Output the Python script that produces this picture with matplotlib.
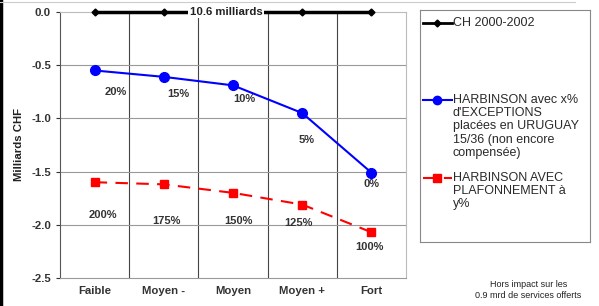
import os
import matplotlib.pyplot as plt
from matplotlib import font_manager as fm
from matplotlib.lines import Line2D

plt.rcParams['font.family'] = ['Liberation Sans', 'DejaVu Sans']

# bold Liberation Sans (not the Narrow variant)
BOLD = None
for f in fm.findSystemFonts():
    if os.path.basename(f).lower() == "liberationsans-bold.ttf":
        BOLD = fm.FontProperties(fname=f)
        break
if BOLD is None:
    BOLD = fm.FontProperties(family="DejaVu Sans", weight="bold")

# --------------------------------------------------------------------
# Data
# --------------------------------------------------------------------
categories = ["Faible", "Moyen -", "Moyen", "Moyen +", "Fort"]
ch_values = [0.0, 0.0, 0.0, 0.0, 0.0]
exceptions = [-0.55, -0.61, -0.69, -0.95, -1.51]
plafond = [-1.60, -1.62, -1.70, -1.81, -2.07]
exc_labels = ["20%", "15%", "10%", "5%", "0%"]
plaf_labels = ["200%", "175%", "150%", "125%", "100%"]
yticks = [0.0, -0.5, -1.0, -1.5, -2.0, -2.5]

legend_texts = [
    "CH 2000-2002",
    "HARBINSON avec x%\nd'EXCEPTIONS\nplacées en URUGUAY\n15/36 (non encore\ncompensée)",
    "HARBINSON AVEC\nPLAFONNEMENT à\ny%",
]

# label offsets in pixels (dx, dy) relative to each point
exc_off = [(21, -22), (14, -17), (11, -14), (4, -27), (0, -11)]
plaf_off = [(8, -33), (3, -37), (5, -28), (-4, -18), (-2, -15)]


def bold(size):
    p = BOLD.copy()
    p.set_size(size)
    return p


# --------------------------------------------------------------------
fig = plt.figure(figsize=(5.99, 3.06), dpi=100)
ax = fig.add_axes([0.1002, 0.0915, 0.5776, 0.8695])

x = list(range(len(categories)))
ax.plot(x, ch_values, color="black", lw=2.5, marker="D", ms=3.5, zorder=4, clip_on=False)
ax.plot(x, exceptions, color="#0000ff", lw=1.5, marker="o", ms=7, zorder=4)
ax.plot(x, plafond, color="#ff0000", lw=1.5, ls=(0, (6, 4)), marker="s", ms=6, zorder=4)

ax.text(1.9, 0.0, "10.6 milliards", ha="center", va="center", fontproperties=bold(8.2),
        color="#222222", zorder=5,
        bbox=dict(facecolor="white", edgecolor="none", pad=1.0))

for i, lab in enumerate(exc_labels):
    ax.annotate(lab, (x[i], exceptions[i]), xytext=exc_off[i], textcoords="offset pixels",
                ha="center", va="center", fontproperties=bold(8), color="#333333")
for i, lab in enumerate(plaf_labels):
    ax.annotate(lab, (x[i], plafond[i]), xytext=plaf_off[i], textcoords="offset pixels",
                ha="center", va="center", fontproperties=bold(8), color="#333333")

ax.set_xlim(-0.5, len(categories) - 0.5)
ax.set_ylim(-2.5, 0.0)
ax.set_yticks(yticks)
ax.set_yticklabels([f"{v:.1f}" for v in yticks])
ax.set_xticks(x)
ax.set_xticklabels(categories)
ax.tick_params(axis="both", colors="#333333", length=3)
for lab in ax.get_xticklabels() + ax.get_yticklabels():
    lab.set_fontproperties(bold(8.2))
ax.tick_params(axis="x", length=0, pad=6)

# vertical separators between categories
for b in range(len(categories) - 1):
    ax.axvline(b + 0.5, color="#444444", lw=0.8, zorder=1)
for v in yticks[1:-1]:
    ax.axhline(v, color="#999999", lw=0.8, zorder=1)

ax.spines["left"].set_color("#555555")
ax.spines["bottom"].set_color("#999999")
ax.spines["right"].set_color("#bbbbbb")
ax.spines["top"].set_color("#bbbbbb")

ax.set_ylabel("Milliards CHF", fontproperties=bold(8.2), color="#222222", labelpad=5)

# --------------------------------------------------------------------
# Legend box (drawn manually)
# --------------------------------------------------------------------
lax = fig.add_axes([0.701, 0.209, 0.284, 0.758])
lax.set_xlim(0, 170)
lax.set_ylim(232, 0)
lax.set_xticks([])
lax.set_yticks([])
for s in lax.spines.values():
    s.set_color("#888888")
    s.set_linewidth(0.8)

samples = [
    dict(color="black", lw=2, marker="D", ms=3.5, ls="-"),
    dict(color="#0000ff", lw=1.5, marker="o", ms=6, ls="-"),
    dict(color="#ff0000", lw=1.5, marker="s", ms=6, ls=(0, (6, 4))),
]
entry_y = [13, 90, 168]
for y0, kw, txt in zip(entry_y, samples, legend_texts):
    lax.add_line(Line2D([3, 32], [y0, y0], markevery=[], **kw))
    lax.plot([17.5], [y0], color=kw["color"], marker=kw["marker"], ms=kw["ms"], ls="none")
    lax.text(33, y0 - 6.5, txt, ha="left", va="top", fontsize=9, color="#2a2a2a",
             linespacing=1.15)

fig.text(0.882, 0.02, "Hors impact sur les\n0.9 mrd de services offerts", ha="center",
         va="bottom", fontsize=6.5, color="#222222", linespacing=1.3)

# scan borders of the original picture
fig.add_artist(Line2D([0.002, 0.002], [0, 1], color="black", lw=2.5))
fig.add_artist(Line2D([0, 0.96], [0.992, 0.992], color="#cccccc", lw=0.8))

fig.savefig("out.png", dpi=100)
